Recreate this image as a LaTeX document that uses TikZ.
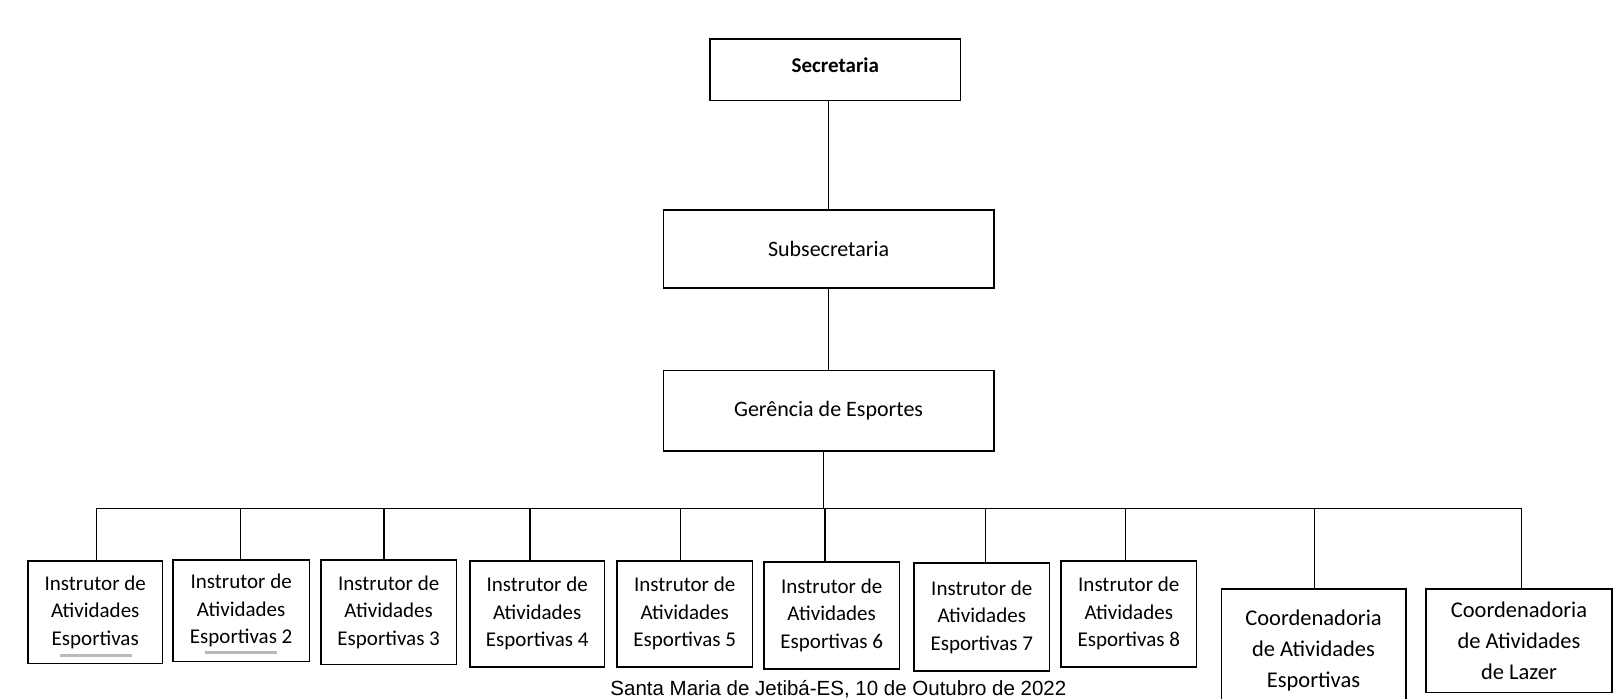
\documentclass[tikz,border=0pt]{standalone}
\usepackage{fontspec}
\setmainfont{Carlito}
\newfontfamily\arialf{Liberation Sans}
\begin{document}
\begin{tikzpicture}[x=1.035pt,y=-1.035pt,
  box/.style={draw,line width=1.8pt,align=center,font=\fontsize{21}{27.5}\selectfont,inner sep=0pt},
  cbox/.style={box,font=\fontsize{22.5}{31}\selectfont},
  ln/.style={line width=1.1pt}]
\useasboundingbox (0,0) rectangle (1568,675);
\newcommand{\bx}[7][]{\node[box,#1,minimum width={(#5-#3)*1.035pt},minimum height={(#6-#4)*1.035pt}] (#2) at ({(#3+#5)/2},{(#4+#6)/2}) {#7};}
\bx[font=\fontsize{21}{27}\selectfont\bfseries]{sec}{686}{38}{928}{97}{\raisebox{9pt}{Secretaria}}
\bx[font=\fontsize{22}{27}\selectfont]{sub}{641}{203}{960}{278}{Subsecretaria}
\bx[font=\fontsize{22}{27}\selectfont]{ger}{641}{358}{960}{436}{Gerência de Esportes}
\bx{i1}{27}{542}{157}{641}{Instrutor de\\Atividades\\Esportivas}
\bx{i2}{167}{541}{299}{639}{Instrutor de\\Atividades\\Esportivas 2}
\bx{i3}{310}{541}{441}{642}{Instrutor de\\Atividades\\Esportivas 3}
\bx{i4}{454}{542}{584}{644}{Instrutor de\\Atividades\\Esportivas 4}
\bx{i5}{596}{542}{727}{644}{Instrutor de\\Atividades\\Esportivas 5}
\bx{i6}{738}{543}{869}{646}{Instrutor de\\Atividades\\Esportivas 6}
\bx{i7}{883}{544}{1014}{648}{Instrutor de\\Atividades\\Esportivas 7}
\bx{i8}{1025}{542}{1156}{644}{Instrutor de\\Atividades\\Esportivas 8}
\bx[cbox]{c1}{1180}{569}{1358}{687}{Coordenadoria\\de Atividades\\Esportivas}
\bx[cbox]{c2}{1378}{569}{1557}{669}{Coordenadoria\\de Atividades\\de Lazer}
\draw[ln] (sec.south -| 800,0) -- (sub.north -| 800,0);
\draw[ln] (sub.south -| 800,0) -- (ger.north -| 800,0);
\coordinate (hl) at (93,491);
\coordinate (hr) at (1470,491);
\draw[ln] (hl) -- (hr);
\draw[ln] (ger.south -| 796,0) -- (796,491);
\foreach \n/\x in {i1/93,i2/232,i3/371,i4/512,i5/657,i6/797,i7/952,i8/1087,c1/1270,c2/1470}
  \draw[ln] (\x,491) -- (\n.north -| \x,0);
\draw[gray!55,line width=3pt] (58,633) -- (128,633);
\draw[gray!55,line width=3pt] (198,630) -- (268,630);
\node[font=\arialf\fontsize{20.5}{22}\selectfont] (foot) at (810,666) {Santa Maria de Jetibá-ES, 10 de Outubro de 2022};
\end{tikzpicture}
\end{document}
